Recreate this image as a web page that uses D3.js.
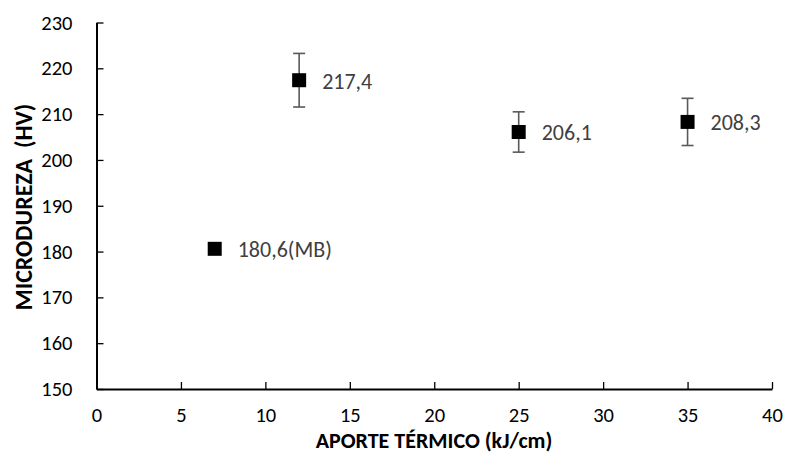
<!DOCTYPE html>
<html lang="es">
<head>
<meta charset="UTF-8" />
<title>Microdureza vs aporte térmico</title>
<style>
  body { margin: 0; background: #fff; }
  text { font-family: Carlito, Lato, "Open Sans", sans-serif; }
</style>
</head>
<body>
<script src="https://cdn.jsdelivr.net/npm/d3@7"></script>
<div id="app"></div>
<script>
// datos
const aporte = [7, 12, 25, 35];
const dureza = [180.6, 217.4, 206.1, 208.3];
const errores = [0, 5.85, 4.4, 5.15];
const etiquetas = ["180,6(MB)", "217,4", "206,1", "208,3"];
const xTicks = [0, 5, 10, 15, 20, 25, 30, 35, 40];
const yTicks = [150, 160, 170, 180, 190, 200, 210, 220, 230];

const w = 787, h = 455;
const svg = d3.select("#app").append("svg")
  .attr("width", w).attr("height", h);

const x = d3.scaleLinear().domain([0, 40]).range([96.5, 772]);
const y = d3.scaleLinear().domain([150, 230]).range([389, 22.5]);

// ejes
const xAxis = svg.append("g")
  .attr("transform", "translate(0," + y(150) + ")")
  .call(d3.axisBottom(x).tickValues(xTicks).tickSizeInner(-7).tickSizeOuter(0).tickPadding(18));
const yAxis = svg.append("g")
  .attr("transform", "translate(" + x(0) + ",0)")
  .call(d3.axisLeft(y).tickValues(yTicks).tickSizeInner(-7).tickSizeOuter(0).tickPadding(24));

[xAxis, yAxis].forEach(g => {
  g.select(".domain").attr("stroke", "#000").attr("stroke-width", 2);
  g.selectAll(".tick line").attr("stroke", "#000").attr("stroke-width", 1.3);
  g.selectAll(".tick text").attr("fill", "#000").style("font-size", "20.5px")
    .style("font-family", "Carlito, Lato, 'Open Sans', sans-serif");
});
yAxis.selectAll(".tick text").attr("x", -24);

// titulos
svg.append("text")
  .attr("x", 434).attr("y", 448)
  .attr("text-anchor", "middle")
  .style("font-size", "22px").style("font-weight", "bold")
  .text("APORTE TÉRMICO (kJ/cm)");

svg.append("text")
  .attr("transform", "translate(31.5,207) rotate(-90)")
  .attr("text-anchor", "middle")
  .style("font-size", "24px").style("font-weight", "bold")
  .style("white-space", "pre")
  .text("MICRODUREZA  (HV)");

// barras de error
const puntos = aporte.map((a, i) => ({ a, d: dureza[i], e: errores[i], t: etiquetas[i] }));
const errG = svg.append("g").attr("stroke", "#595959").attr("stroke-width", 1.6);
puntos.filter(p => p.e > 0).forEach(p => {
  errG.append("line").attr("x1", x(p.a)).attr("x2", x(p.a))
    .attr("y1", y(p.d - p.e)).attr("y2", y(p.d + p.e));
  [p.d - p.e, p.d + p.e].forEach(v => {
    errG.append("line").attr("x1", x(p.a) - 6).attr("x2", x(p.a) + 6)
      .attr("y1", y(v)).attr("y2", y(v));
  });
});

// marcadores
svg.selectAll("rect.pt").data(puntos).enter().append("rect")
  .attr("class", "pt")
  .attr("x", p => x(p.a) - 7).attr("y", p => y(p.d) - 7)
  .attr("width", 14).attr("height", 14)
  .attr("fill", "#000");

// etiquetas
svg.selectAll("text.lbl").data(puntos).enter().append("text")
  .attr("class", "lbl")
  .attr("x", p => x(p.a) + 23).attr("y", p => y(p.d) + 8.5)
  .attr("fill", "#404040")
  .style("font-size", "22px")
  .text(p => p.t);
</script>
</body>
</html>
